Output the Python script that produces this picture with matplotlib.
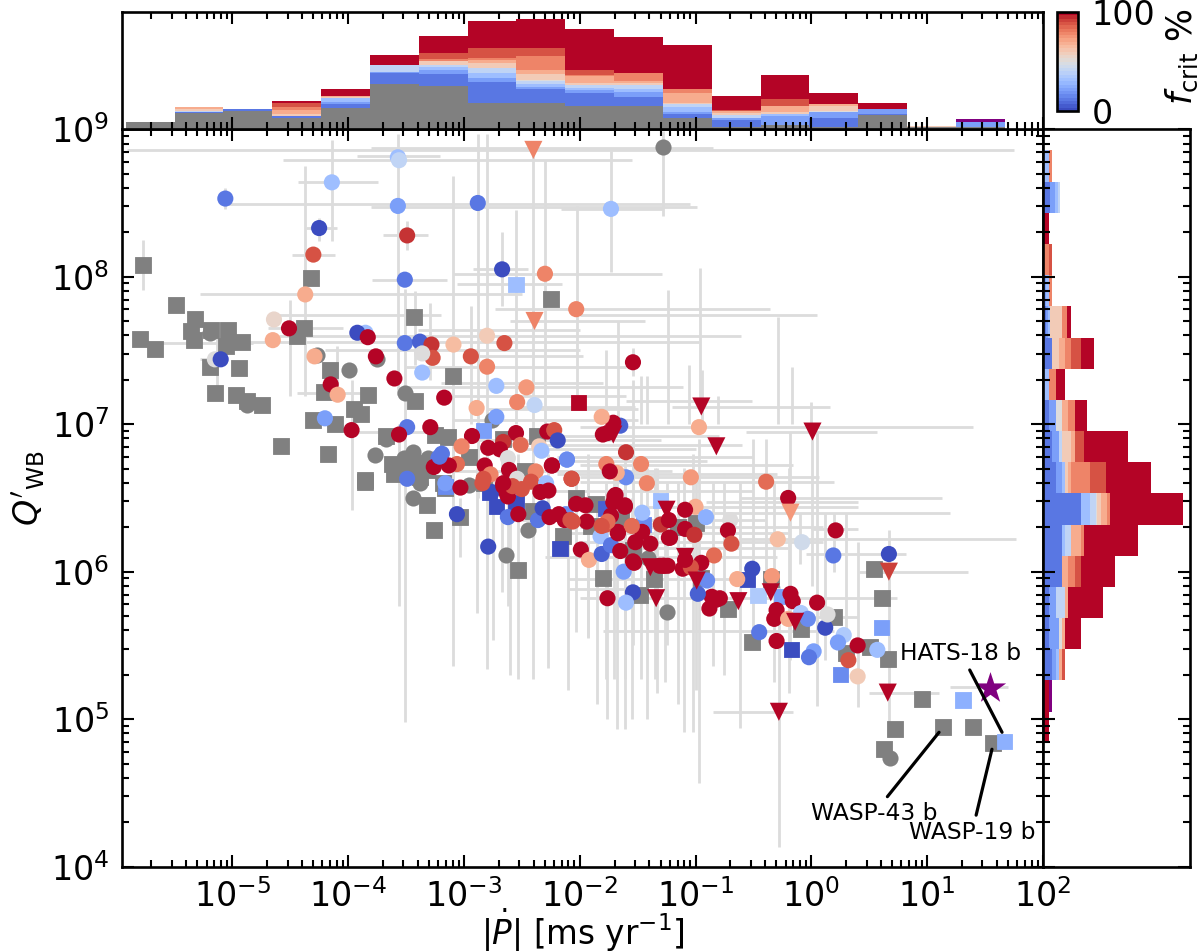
# -*- coding: utf-8 -*-
"""
Tidal quality factor vs period decay rate, with marginal histograms
coloured by critical fraction.
"""

import numpy as np
import matplotlib as mpl
import matplotlib.pyplot as plt
from matplotlib.cm import ScalarMappable
from matplotlib.colors import Normalize
from matplotlib.ticker import LogLocator, NullFormatter, NullLocator

# region Data (log10 of Pdot, log10 of Q, fcrit in %)

grey_sq_x = [-5.77, -4.32, -5.49, -5.32, -5.36, -5.18, -5.04, -5.33, -5.80, -5.67, -5.05, -4.92, -4.38, -4.44,
             -5.19, -4.94, -5.15, -4.97, -4.87, -4.74, -4.58, -4.30, -4.11, -4.17, -4.16, -4.21, -3.83, -3.95,
             -3.89, -3.43, -3.09, -2.25, -3.42, -3.67, -3.25, -3.14, -3.85, -2.96, -3.62, -3.52, -3.42, -3.32,
             -3.60, -3.38, -3.18, -2.66, -2.37, -2.47, -2.83, -3.26, -3.32, -3.03, -2.53, -1.80, -1.48, -1.36,
             -2.40, -2.14, -1.64, -1.54, -1.86, -1.90, -2.03, -3.85, -3.16, 0.54, 0.61, 0.66, 0.96, 1.14, 1.40,
             1.57, 0.72, 0.63, -0.51, 0.30, 0.51, -0.72, -0.35, -0.09, 0.20, -1.00, -1.15, -0.95]
grey_sq_y = [8.08, 7.99, 7.81, 7.71, 7.63, 7.64, 7.64, 7.57, 7.58, 7.51, 7.53, 7.56, 7.65, 7.60,
             7.39, 7.38, 7.21, 7.20, 7.16, 7.13, 6.85, 7.03, 7.00, 6.80, 7.37, 7.22, 7.20, 7.10,
             7.07, 7.73, 7.33, 7.85, 7.16, 6.92, 6.93, 6.91, 6.62, 6.78, 6.73, 6.72, 6.74, 6.69,
             6.66, 6.64, 6.60, 6.90, 6.92, 6.68, 6.60, 6.28, 6.45, 6.37, 6.01, 5.96, 5.84, 5.95,
             6.41, 6.24, 6.35, 6.15, 6.46, 6.31, 6.50, 6.61, 6.57, 6.02, 5.82, 5.41, 5.14, 4.95, 4.95,
             4.84, 4.93, 4.80, 5.52, 5.45, 5.49, 5.75, 5.95, 5.61, 5.69, 6.33, 6.30, 5.96]

grey_c_x = [-5.19, -4.27, -3.99, -3.75, -3.51, -4.87, -3.67, -3.77, -3.44, -3.52, -3.31, -3.38, -3.44, -2.96,
            -2.76, -2.64, -2.45, -1.41, -1.25, 0.68, -1.28, -3.60, -3.25]
grey_c_y = [7.62, 7.47, 7.37, 7.44, 7.21, 7.13, 6.90, 6.79, 6.81, 6.77, 6.77, 6.60, 6.50, 6.59,
            7.03, 6.11, 6.28, 6.09, 5.73, 4.74, 8.88, 6.70, 6.75]

circ_x = [-5.06, -4.14, -3.57, -3.56, -3.57, -2.88, -4.25, -3.49, -4.30, -3.51, -2.67, -2.30, -4.37, -2.03,
          -4.64, -4.51, -4.65, -3.85, -3.92, -3.83, -3.51, -3.38, -3.28, -3.09, -2.80, -2.65, -2.94, -3.27,
          -3.36, -3.76, -5.15, -5.10, -4.29, -2.80, -3.36, -3.60, -4.15, -4.09, -2.72, -2.46, -3.17, -2.54,
          -2.39, -2.89, -2.72, -4.20, -3.97, -3.49, -3.29, -3.56, -2.93, -2.55, -2.28, -2.22, -2.19, -2.66,
          -2.79, -2.69, -2.51, -3.02, -3.19, -3.22, -3.06, -3.26, -3.13, -2.82, -2.62, -2.35, -2.33, -2.11,
          -2.24, -2.61, -2.38, -2.77, -2.83, -2.54, -2.42, -2.07, -2.29, -3.49, -3.16, -3.03, -2.66, -2.50,
          -2.34, -2.27, -2.76,
          -3.06, -2.79, -2.62, -2.53, -2.36, -2.32, -2.26, -2.12, -2.18, -2.13, -2.08, -1.99, -1.92, -1.81,
          -1.82, -1.73, -1.65, -1.62, -1.54, -1.54, -1.76, -1.60, -1.52, -1.46, -1.39, -1.67, -1.55, -1.77,
          -1.73, -1.94, -2.03, -1.95, -1.70, -1.71, -1.61, -1.46, -1.23, -1.30, -1.27, -1.31, -1.60, -1.47,
          -1.42, -1.60, -1.77, -1.68, -1.74, -1.65, -1.71, -1.80, -1.76, -1.81, -2.07, -2.24, -2.11, -2.62,
          -2.66, -0.97, -1.04, -0.39, -0.20, -1.00, -0.91, -1.09, -0.70, -0.72, -0.69, -0.29, -0.08, 0.21,
          0.19, 0.67, -0.84, -0.95, -1.09, -1.01, -0.51, -0.64, -0.34, -0.18, -0.16, 0.05, -0.30, -0.32,
          -0.09, -0.03, -0.20, 0.12, 0.14, 0.28, 0.23, -0.45, -0.30, 0.40, 0.57, 0.32, 0.40, 0.02, -0.02,
          -0.86, -0.82, -0.88, -0.90, -0.98, -1.73,
          -1.69, -1.61, -1.67, -1.53, -1.76, -1.81, -2.06, -1.24, -1.28, -1.11, -1.04, -1.22, -1.23, -1.09,
          -0.79, -2.63, -2.58, -2.84, -2.66, -3.21, -1.54]
circ_y = [8.53, 8.64, 8.81, 8.79, 8.48, 8.50, 8.33, 8.28, 8.15, 7.98, 8.05, 8.02, 7.88, 7.78,
          7.71, 7.65, 7.57, 7.62, 7.62, 7.59, 7.55, 7.56, 7.54, 7.54, 7.60, 7.55, 7.46, 7.45,
          7.48, 7.46, 7.44, 7.44, 7.46, 7.39, 7.35, 7.31, 7.27, 7.20, 7.26, 7.25, 7.18, 7.15,
          7.13, 7.11, 7.05, 7.04, 6.96, 6.98, 6.98, 6.93, 6.92, 6.94, 6.95, 6.96, 6.89, 6.88,
          6.84, 6.83, 6.86, 6.85, 6.80, 6.77, 6.73, 6.71, 6.72, 6.72, 6.77, 6.85, 6.82, 6.76,
          6.72, 6.69, 6.68, 6.66, 6.63, 6.63, 6.61, 6.63, 6.60, 6.63, 6.60, 6.57, 6.59, 6.56,
          6.54, 6.55, 6.54,
          6.39, 6.17, 6.37, 6.39, 6.35, 6.43, 6.37, 6.39, 6.39, 6.35, 6.35, 6.15, 6.08, 6.12,
          6.24, 6.18, 6.14, 6.00, 6.07, 5.86, 5.82, 5.79, 6.20, 6.27, 6.19, 6.27, 6.31, 6.32,
          6.38, 6.34, 6.46, 6.45, 6.51, 6.47, 6.45, 6.40, 6.23, 6.32, 6.04, 6.04, 6.81, 6.73,
          6.60, 6.64, 6.73, 6.67, 6.68, 6.99, 7.01, 6.93, 6.94, 7.05, 6.63, 6.72, 6.76, 6.51,
          6.58, 6.98, 6.64, 6.61, 6.50, 6.44, 6.37, 6.42, 6.35, 6.28, 6.19, 6.22, 6.20, 6.28,
          6.11, 6.12, 6.11, 6.06, 6.29, 6.25, 6.02, 5.95, 5.97, 5.85, 5.80, 5.79, 5.74, 5.68,
          5.72, 5.68, 5.68, 5.62, 5.71, 5.57, 5.52, 5.59, 5.53, 5.50, 5.47, 5.40, 5.29, 5.46, 5.42,
          5.83, 5.81, 5.75, 5.94, 5.85, 8.46,
          6.52, 6.44, 6.26, 6.06, 6.34, 6.31, 6.34, 6.04, 6.04, 6.02, 6.03, 6.23, 6.35, 6.08,
          5.82, 6.53, 6.58, 6.60, 6.60, 6.78, 7.42]
circ_f = [10, 30, 30, 40, 20, 10, 0, 95, 90, 10, 0, 80, 70, 80,
          55, 100, 70, 30, 0, 100, 10, 5, 95, 65, 60, 90, 90, 90,
          50, 100, 50, 0, 70, 80, 30, 100, 100, 70, 30, 75, 100, 80,
          40, 70, 20, 20, 100, 10, 100, 100, 100, 100, 100, 90, 0, 95,
          100, 100, 85, 80, 10, 10, 85, 100, 100, 100, 50, 60, 30, 20,
          100, 100, 80, 80, 90, 50, 90, 95, 30, 10, 20, 100, 100, 90,
          100, 100, 0,
          0, 0, 10, 100, 10, 0, 100, 15, 100, 100, 90, 100, 70, 5,
          30, 10, 100, 20, 100, 0, 100, 30, 100, 100, 100, 100, 85, 90,
          100, 100, 100, 100, 100, 100, 100, 30, 100, 95, 100, 100, 95, 80,
          80, 15, 80, 70, 100, 5, 100, 100, 100, 70, 90, 100, 15, 100,
          100, 70, 75, 85, 100, 70, 25, 100, 50, 100, 90, 65, 45, 100,
          10, 0, 85, 100, 100, 95, 0, 70, 75, 100, 100, 100, 100, 100,
          35, 15, 70, 0, 50, 35, 20, 10, 100, 100, 30, 90, 60, 20, 10,
          100, 100, 100, 15, 5, 30,
          100, 100, 100, 100, 85, 90, 90, 100, 100, 100, 90, 100, 100, 100,
          100, 100, 90, 90, 100, 10, 100]

sq_x = [-2.83, -2.55, -2.01, -2.17, -2.72, -2.78, -2.55, -3.16, -1.45, -1.78, -1.30, 0.61, 1.31, 1.67,
        -0.17, 0.25, -0.46, -0.26, -0.55]
sq_y = [6.96, 7.95, 7.15, 6.16, 6.44, 6.54, 6.47, 6.58, 6.32, 6.43, 6.48, 5.62, 5.13, 4.85,
        5.47, 5.30, 5.84, 5.83, 5.95]
sq_f = [20, 30, 100, 0, 0, 0, 0, 15, 15, 5, 30, 20, 25, 25,
        0, 15, 35, 20, 0]

tri_x = [-2.40, -2.39, -1.39, -1.34, -1.25, -1.71, -0.95, 0.01, -0.82, -0.18, 0.67, 0.66, -0.28, -0.63,
         -0.35, -0.14, -0.99, -1.09]
tri_y = [8.86, 7.70, 6.03, 5.82, 6.42, 6.93, 7.12, 6.95, 6.85, 6.40, 6.00, 5.18, 5.05, 5.80,
         5.86, 5.66, 5.94, 6.10]
tri_f = [80, 80, 100, 100, 100, 100, 100, 100, 100, 75, 93, 100, 100, 100,
         100, 100, 100, 100]

star_x = [1.54]
star_y = [5.21]

# Horizontal error bars: log10 Q, log10 Pdot low, log10 Pdot high
hbar_y = [8.86, 8.87, 8.82, 8.79, 8.64, 8.49, 8.475, 8.46, 8.28, 8.33, 8.15, 7.98, 8.02, 8.05, 7.95, 7.88, 7.78,
          7.74, 7.74, 7.70, 7.60, 7.555, 7.46, 7.39, 7.25, 7.155, 7.115, 7.115, 7.65, 7.55, 7.21, 7.44, 7.64, 7.50,
          7.28, 7.19, 7.10, 7.03, 6.95, 6.98, 6.945, 6.72, 6.64, 6.61, 6.50, 6.44, 6.47, 6.40, 6.22, 6.20, 6.12,
          6.00, 6.29, 5.82, 5.69, 5.18, 5.22, 5.05, 6.89, 6.83, 6.75, 6.68, 6.55, 6.35, 6.10, 5.95, 5.88, 5.60,
          6.30, 6.26, 6.16, 6.66, 6.78, 6.86, 6.92]
hbar_x0 = [-5.91, -3.80, -3.92, -4.56, -4.43, -5.05, -3.80, -2.16, -3.70, -4.36, -4.48, -3.79, -3.09, -2.92, -3.06,
           -5.28, -2.73, -4.60, -2.00, -2.60, -4.60, -4.90, -3.00, -3.50, -3.50, -1.60, -1.20, -2.50, -4.69, -5.67,
           -4.44, -5.28, -3.40, -4.20, -3.20, -3.10, -2.80, -3.10, -3.97, -2.00, -0.56, -2.00, -2.00, -2.00, -0.62,
           -1.50, -0.91, -1.00, -0.62, -2.00, -0.05, 0.41, 0.00, -2.00, 0.00, 0.50, 1.20, -0.85, -3.00, -2.50, -2.20,
           -3.10, -2.30, -2.50, -2.30, -2.10, -2.09, -1.80,
           -2.00, -2.20, -1.50, -2.20, -2.20, -2.40, -2.30]
hbar_x1 = [1.75, -0.85, -3.21, -1.55, -3.74, -1.05, -0.99, -1.28, -3.31, -4.10, -4.11, -3.15, -1.29, -2.45, -2.15,
           -2.50, -0.36, -3.20, 0.05, -1.44, -0.61, -0.97, -1.97, -1.60, -1.11, -0.51, 0.16, -1.52, -4.04, -4.82,
           -3.90, -5.05, -2.00, -2.00, -1.80, -1.60, -1.50, -1.50, -3.30, 1.40, 0.57, -0.16, 0.07, 0.20, 1.13, 0.40,
           0.40, 1.20, 1.77, 0.10, 0.82, 1.35, 0.40, 0.74, 0.40, 1.10, 1.70, -0.16, -1.30, -1.00, -0.90, -1.20, -0.50,
           -0.40, -0.30, -0.50, -1.54, 0.20,
           0.10, -0.20, -0.20, -0.30, -0.50, -0.60, -0.80]

# Vertical error bars: log10 Pdot, log10 Q low, log10 Q high
vbar_x = [-1.28, -1.73, -2.02, -0.96, -1.24, -0.29, -1.67, -1.77, -0.17, -1.54, -1.06, -1.47, -1.42, -0.94, -0.81,
          0.00, -5.77, -4.14, -4.37, -3.57, -3.51, -3.09, -2.88, -2.80, -2.55, -2.40, -2.30, -2.67, -4.50, -4.10,
          -3.42, -3.29, -2.94, -5.13, -3.97, -3.56, -3.09, -3.03, -2.89, -2.80, -2.75, -2.67, -2.62, -2.53, -2.40,
          -2.27, -2.03, -1.93, -1.77, -1.70, -1.61, -1.47, -1.35, -1.25, -1.76, -1.68, -1.61, -1.54, -1.42, -1.33,
          -1.26, -1.10, -1.02, -0.85, -0.62, 0.05, 0.40, -0.19, -0.32, -1.93, -0.39, -0.18, 0.01, 0.20, -0.10, -0.28,
          -0.97, 0.67, -1.00, -4.25, -5.06, -3.49,
          -1.85, -1.55, -1.15, -0.75, -0.50, 0.12, 0.30, -2.60, -2.10]
vbar_y0 = [8.41, 8.03, 7.10, 7.12, 7.00, 7.00, 7.00, 7.00, 7.00, 7.33, 7.00, 7.00, 7.00, 7.00, 7.00,
           7.00, 7.91, 8.24, 7.19, 7.20, 4.98, 6.50, 6.50, 6.50, 7.00, 6.80, 6.90, 7.80, 7.19, 7.19,
           7.40, 7.30, 7.00, 7.23, 6.42, 5.77, 5.36, 6.10, 5.72, 5.34, 5.54, 5.86, 5.77, 5.27, 5.27,
           5.35, 5.59, 5.55, 5.27, 5.27, 5.27, 5.27, 5.27, 5.50, 5.00, 4.93, 4.93, 5.50, 5.00, 5.18,
           5.25, 4.91, 4.91, 5.36, 4.94, 5.09, 5.08, 5.18, 5.25, 5.56, 5.90, 5.40, 5.90, 6.00, 6.05, 4.13,
           4.57, 4.90, 5.20, 8.24, 8.46, 8.18,
           5.10, 5.00, 5.10, 5.30, 5.50, 5.40, 5.60, 5.30, 5.20]
vbar_y1 = [8.99, 8.85, 8.48, 8.06, 7.91, 7.73, 7.70, 7.50, 7.39, 7.52, 7.40, 7.33, 7.33, 7.37, 7.19,
           7.15, 8.25, 8.93, 8.75, 8.97, 7.92, 8.68, 8.97, 8.97, 8.45, 8.88, 8.79, 8.30, 7.84, 7.53,
           7.90, 7.82, 7.80, 7.62, 7.30, 7.00, 6.90, 6.50, 6.70, 6.60, 6.70, 6.80, 6.70, 6.80, 6.85,
           6.80, 6.60, 6.60, 6.60, 6.70, 6.60, 6.60, 6.70, 6.60, 6.50, 6.70, 6.80, 7.30, 6.70, 6.70,
           6.50, 6.70, 6.80, 6.60, 6.60, 6.95, 6.20, 6.70, 6.60, 6.80, 6.90, 6.95, 6.95, 6.40, 6.40, 5.90,
           6.90, 6.28, 6.60, 8.40, 8.60, 8.38,
           6.50, 6.50, 6.60, 6.60, 6.90, 6.40, 6.40, 6.50, 6.40]

# Top histogram, stacked per bin (log10 Pdot bins)
top_edges = (-5.92, 1.67)
top_grey = [3.6, 8.75, 9.6, 6, 11.5, 24, 22.7, 13.7, 13.7, 12.5, 12.5, 6, 1.2, 2, 1, 7.3, 1.2, 1]
top_counts = {
    10: [0, .6, 1, 1, 2, 6, 6.6, 11.6, 7.5, 7, 4.8, 2.3, 3.6, 0, 5.2, 1, 0, 0],
    20: [0, 0, .4, 0, 1, .5, 2, 2, 1.4, 1.4, 2.3, 1, 1, 4.8, 3.2, 2.7, 0, 2.7],
    30: [0, 0, 0, 0, 2, 0, 2, 2.5, 1.5, .8, 1.8, 2.7, 0, 1.4, 0, 0, 0, 0],
    40: [0, .4, 0, 0, 0, 3.5, 1, 2.5, 1.5, 1.8, 2, 1.5, 1.5, 0, 0, 0, 0, 0],
    50: [0, 0, 0, 0, 0, 0, 0, 0, .5, 0, 0, 0, 0, 0, .4, 0, 0, 0],
    60: [.2, 1.2, 0, 1, .5, 0, 2, 3, 3, .9, 1.4, .5, 1.2, 1.2, 2.3, 0, .3, .3],
    70: [0, .6, 0, 2, .5, 0, 0, 1.5, 2.3, 4, 1, 5.3, 1, 3.2, 1.4, 0, 0, 0],
    80: [0, 0, 0, 2, 0, 0, 1, 1.2, 7.7, .5, 4, 2, 0, 0, 0, 0, 0, 0],
    90: [0, 0, 0, 2, 0, 0, 3, 5, 4, 2.3, 0, 0, .5, 3.2, 0, 0, 0, 0],
    100: [0, 0, 0, 1, 4, 5.5, 9.3, 14.3, 15.4, 21.8, 19.3, 23.4, 7.9, 13.2, 5.5, 2.7, 0, 0],
}
top_star = [0] * 17 + [1.5]

# Right histogram, stacked per bin (log10 Q bins, top to bottom)
right_edges = (8.856, 4.84)
right_counts = {
    10: [0, 4.4, 0, 0, 0, 2, 5.6, 0, 3.6, 5.6, 7.6, 23, 11.4, 11.4, 3.6, 3.6, 5.6, 0, 0],
    20: [0, 2.6, 0, 0, 1.8, 1, 0, 0, 4, 3.8, 3.8, 0, 0, 0, 4, 5.8, 2, 0, 0],
    30: [3.6, 2, 0, 0, 1.8, 1, 0, 3.6, 0, 0, 2, 5.6, 2, 0, 0, 0, 1.8, 0, 0],
    40: [0, 1, 0, 0, 0, 0, 0, 0, 0, 2, 0, 3.4, 3.6, 0, 5.8, 0, 0, 0, 0],
    50: [0, 0, 0, 0, 0, 0, 0, 0, 3.8, 0, 0, .8, 0, 0, 0, 2, 0, 0, 0],
    60: [0, 0, 0, 0, 0, 7.4, 3.8, 0, 0, 5.6, 1.6, 2, 0, 0, 0, 0, 0, 0, 0],
    70: [0, 0, 0, 0, 0, 0, 4, 0, 3.6, 2, 2, 4, 6, 3.6, 1.6, 2, 2, 0, 0],
    80: [2, 0, 0, 3.6, 2, 3.2, 3.6, 4, 4, 0, 11.6, 1.6, 1.6, 4, 0, 0, 0, 0, 0],
    90: [0, 0, 0, 2, 0, 0, 6, 0, 0, 5.6, 9.4, 0, 0, 4, 0, 0, 2, 0, 0],
    100: [0, 0, 3.6, 0, 0, 2.4, 7.6, 5.6, 7.4, 26.8, 27, 44, 32.6, 20.6, 21.4, 9.6, 0, 3.6, 3.6],
}
right_star = [0] * 17 + [2, 0]

# Labelled planets: name, text position, leader end (log10 values)
label_names = ["HATS-18 b", "WASP-43 b", "WASP-19 b"]
label_text_x = [1.293, 0.543, 1.388]
label_text_y = [5.447, 4.363, 4.234]
label_end_x = [1.647, 1.103, 1.56]
label_end_y = [4.911, 4.911, 4.796]

x_decades = [-5, -4, -3, -2, -1, 0, 1, 2]
y_decades = [4, 5, 6, 7, 8, 9]

# endregion

GREY = "#808080"
ERR_COLOR = "#dcdcdc"
STAR_COLOR = "purple"
FONT = 24


def stacked_top(ax, edges, base, layers, cmap, norm):
    bottom = np.array(base, dtype=float)
    ax.bar(edges[:-1], bottom, width=np.diff(edges), align="edge", color=GREY)
    for fcrit, vals in layers.items():
        vals = np.array(vals, dtype=float)
        ax.bar(edges[:-1], vals, width=np.diff(edges), bottom=bottom, align="edge", color=cmap(norm(fcrit)))
        bottom += vals
    ax.bar(edges[:-1], top_star, width=np.diff(edges), bottom=bottom, align="edge", color=STAR_COLOR)


def stacked_right(ax, edges, layers, cmap, norm):
    left = np.zeros(len(edges) - 1)
    for fcrit, vals in layers.items():
        vals = np.array(vals, dtype=float)
        ax.barh(edges[:-1], vals, height=np.diff(edges), left=left, align="edge", color=cmap(norm(fcrit)))
        left += vals
    ax.barh(edges[:-1], right_star, height=np.diff(edges), left=left, align="edge", color=STAR_COLOR)


def log_ticks(axis, decades):
    axis.set_ticks(10.0 ** np.array(decades))
    axis.set_minor_locator(LogLocator(base=10, subs=range(2, 10), numticks=20))
    axis.set_minor_formatter(NullFormatter())


def main():
    mpl.rcParams["axes.linewidth"] = 1.9
    fig = plt.figure(figsize=(12, 9.51), dpi=100)
    ax = fig.add_axes([0.1014, 0.0887, 0.7677, 0.7754])
    ax_top = fig.add_axes([0.1014, 0.8641, 0.7677, 0.1228], sharex=ax)
    ax_right = fig.add_axes([0.8692, 0.0887, 0.1225, 0.7754], sharey=ax)
    cax = fig.add_axes([0.8808, 0.8833, 0.0175, 0.1040])

    cmap = plt.get_cmap("coolwarm")
    norm = Normalize(0, 100)

    # Error bars under everything
    ax.hlines(10.0 ** np.array(hbar_y), 10.0 ** np.array(hbar_x0), 10.0 ** np.array(hbar_x1),
              color=ERR_COLOR, linewidth=2.0, zorder=1)
    ax.vlines(10.0 ** np.array(vbar_x), 10.0 ** np.array(vbar_y0), 10.0 ** np.array(vbar_y1),
              color=ERR_COLOR, linewidth=2.0, zorder=1)

    # Planets without fcrit
    ax.scatter(10.0 ** np.array(grey_c_x), 10.0 ** np.array(grey_c_y), s=135, c=GREY, marker="o", linewidths=0, zorder=2)
    ax.scatter(10.0 ** np.array(grey_sq_x), 10.0 ** np.array(grey_sq_y), s=118, c=GREY, marker="s",
               edgecolors=GREY, linewidths=0.6, zorder=2)

    # Planets coloured by fcrit
    ax.scatter(10.0 ** np.array(sq_x), 10.0 ** np.array(sq_y), s=118, c=sq_f, cmap=cmap, norm=norm, marker="s",
               edgecolors="face", linewidths=0.6, zorder=3)
    ax.scatter(10.0 ** np.array(circ_x), 10.0 ** np.array(circ_y), s=135, c=circ_f, cmap=cmap, norm=norm, marker="o",
               linewidths=0, zorder=4)
    ax.scatter(10.0 ** np.array(tri_x), 10.0 ** np.array(tri_y), s=170, c=tri_f, cmap=cmap, norm=norm, marker="v",
               linewidths=0, zorder=5)
    ax.scatter(10.0 ** np.array(star_x), 10.0 ** np.array(star_y), s=560, c=STAR_COLOR, marker="*", linewidths=0, zorder=6)

    for name, tx, ty, ex, ey in zip(label_names, label_text_x, label_text_y, label_end_x, label_end_y):
        ax.annotate(name, xy=(10.0**ex, 10.0**ey), xytext=(10.0**tx, 10.0**ty), fontsize=16.8, ha="center", va="center",
                    zorder=7, arrowprops=dict(arrowstyle="-", color="black", lw=2.3, shrinkA=2, shrinkB=0))

    ax.set_xscale("log")
    ax.set_yscale("log")
    log_ticks(ax.xaxis, x_decades)
    log_ticks(ax.yaxis, y_decades)
    ax.set_xlim(10**-5.955, 1e2)
    ax.set_ylim(1e4, 1e9)
    ax.tick_params(which="both", direction="in", top=True, right=True, labelsize=FONT, width=1.5, pad=9)
    ax.tick_params(which="major", length=8.6)
    ax.tick_params(which="minor", length=5)
    ax.set_xlabel(r"$|\dot{P}|$ [ms yr$^{-1}$]", fontsize=23.5, labelpad=-5)
    ax.set_ylabel(r"$Q'_{\mathrm{WB}}$", fontsize=FONT, labelpad=3, y=0.513)

    # Marginals
    stacked_top(ax_top, 10.0 ** np.linspace(*top_edges, len(top_grey) + 1), top_grey, top_counts, cmap, norm)
    ax_top.set_ylim(0, 62)
    ax_top.yaxis.set_major_locator(NullLocator())
    ax_top.tick_params(which="both", direction="in", top=True, bottom=True, labelbottom=False, width=1.5)
    ax_top.tick_params(which="major", length=8.6)
    ax_top.tick_params(which="minor", length=5)

    stacked_right(ax_right, 10.0 ** np.linspace(*right_edges, len(right_counts[100]) + 1), right_counts, cmap, norm)
    ax_right.set_xlim(0, 88.6)
    ax_right.xaxis.set_major_locator(NullLocator())
    ax_right.tick_params(which="both", direction="in", left=True, right=True, labelleft=False, width=1.5)
    ax_right.tick_params(which="major", length=8.6)
    ax_right.tick_params(which="minor", length=5)

    # Colour bar
    sm = ScalarMappable(norm=norm, cmap=plt.get_cmap("coolwarm", 30))
    cbar = fig.colorbar(sm, cax=cax, ticks=[0, 100])
    cbar.ax.tick_params(length=0, labelsize=FONT, pad=10)
    cbar.set_label(r"$f_{\mathrm{crit}}$ %", fontsize=25, labelpad=6, y=0.55)

    fig.savefig("out.png", dpi=100)


if __name__ == "__main__":
    main()
